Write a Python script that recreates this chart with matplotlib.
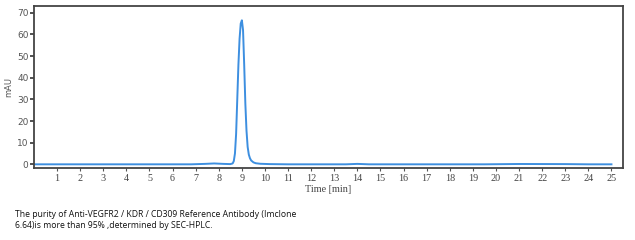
import matplotlib
matplotlib.use("Agg")
import matplotlib.pyplot as plt

# chromatogram (time in min, absorbance in mAU)
time_min = [0.05, 6.8, 7.4, 7.8, 8.2, 8.5, 8.6, 8.65, 8.7, 8.75, 8.8, 8.85, 8.9,
            8.95, 9.0, 9.05, 9.1, 9.15, 9.2, 9.25, 9.3, 9.35, 9.4, 9.5, 9.6,
            9.8, 10.2, 11.0, 13.5, 14.0, 14.5, 19.5, 21.0, 23.0, 24.0, 25.0]
signal_mau = [0.0, 0.0, 0.2, 0.4, 0.2, 0.1, 0.4, 1.5, 5.0, 14.0, 30.0, 46.0, 58.0,
              65.0, 66.5, 62.0, 46.0, 28.0, 15.5, 8.0, 4.5, 2.8, 1.8, 0.9, 0.5,
              0.25, 0.1, 0.0, 0.0, 0.2, 0.0, 0.0, 0.15, 0.1, 0.0, 0.0]

x_ticks = list(range(1, 26))
y_ticks = [0, 10, 20, 30, 40, 50, 60, 70]
caption = ("The purity of Anti-VEGFR2 / KDR / CD309 Reference Antibody (Imclone\n"
           "6.64)is more than 95% ,determined by SEC-HPLC.")

fig = plt.figure(figsize=(6.35, 2.4), dpi=100)
ax = fig.add_axes([34/635, 72/240, 589/635, 162/240])

ax.plot(time_min, signal_mau, color="#3d8fe0", lw=1.4)

ax.set_xlim(0, 25.5)
ax.set_ylim(-1.7, 73.1)
ax.set_xticks(x_ticks)
ax.set_yticks(y_ticks)
for s in ax.spines.values():
    s.set_color("#444444")
    s.set_linewidth(1.3)

ax.tick_params(axis="y", direction="out", length=3, width=1.2, color="#333333",
               labelsize=6.5, labelcolor="#555555", pad=1)
ax.tick_params(axis="x", direction="out", length=2.5, width=0.8, color="#555555",
               labelsize=7.3, labelcolor="#444444", pad=2)
for lab in ax.get_xticklabels():
    lab.set_family("Liberation Serif")

ax.set_ylabel("mAU", fontsize=6, color="#555555", labelpad=3)
ax.set_xlabel("Time [min]", fontsize=7.3, color="#444444", family="Liberation Serif",
              labelpad=1)

fig.text(15/635, 1 - 210/240, caption, fontsize=6.2, family="Open Sans",
         va="top", ha="left", color="#111111", linespacing=1.25)

fig.savefig("out.png", dpi=100)
